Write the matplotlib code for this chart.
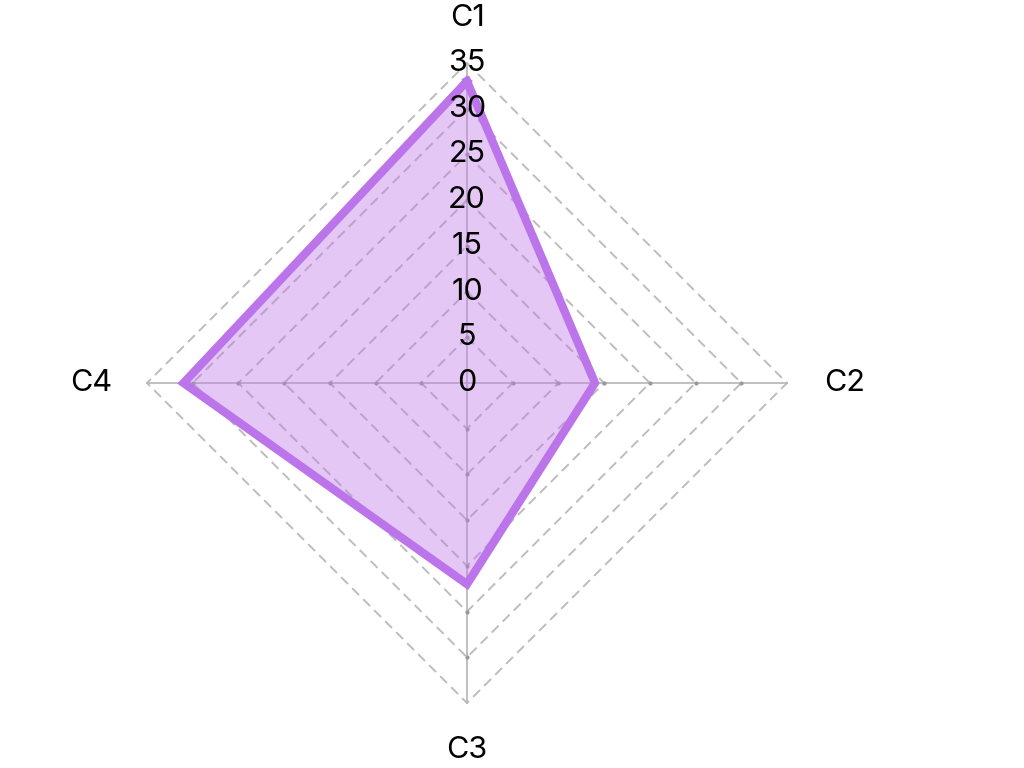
import numpy as np
import matplotlib.pyplot as plt

plt.rcParams['font.family'] = ['Inter', 'DejaVu Sans']

# data
categories = ['C1', 'C2', 'C3', 'C4']
values = [33, 14, 22, 31]
ticks = [0, 5, 10, 15, 20, 25, 30, 35]
rmax = 35

angles = np.array([0, 90, 180, 270]) * np.pi / 180   # clockwise from top

def to_xy(r, a):
    return np.asarray(r) * np.sin(a), np.asarray(r) * np.cos(a)

fig = plt.figure(figsize=(10.24, 7.68), dpi=100)
ax = fig.add_axes([0, 0, 1, 1])
k = 320 / rmax
ax.set_xlim(-467 / k, (1024 - 467) / k)
ax.set_ylim(-385 / k, 383 / k)
ax.axis('off')

# dashed grid diamonds
for t in ticks[1:]:
    gx, gy = to_xy([t] * 5, np.append(angles, angles[0]))
    ax.plot(gx, gy, color='#bdbdbd', lw=1.4, ls=(0, (5, 3)), zorder=1)

# spokes with small tick dots
for a in angles:
    sx, sy = to_xy([0, rmax], a)
    ax.plot(sx, sy, color='#b5b5b5', lw=1.2, zorder=1)
    dx, dy = to_xy(ticks[1:-1], a)
    ax.plot(dx, dy, 'o', color='#999999', ms=2, zorder=1)

# data polygon
px, py = to_xy(values + values[:1], np.append(angles, angles[0]))
ax.fill(px, py, color='#c07ae9', alpha=0.42, lw=0, zorder=2)
ax.plot(px, py, color='#bc74ea', lw=6, solid_joinstyle='miter', zorder=3)

# radial tick labels
for t in ticks:
    ax.text(0, t, str(t), ha='center', va='center', fontsize=22, color='black', zorder=4)

# category labels
offs = [39.9, 41.3, 40.1, 41.1]
for c, a, o in zip(categories, angles, offs):
    lx, ly = to_xy(o, a)
    ax.text(lx, ly, c, ha='center', va='center', fontsize=22, color='black')

fig.savefig('out.png', dpi=100)
